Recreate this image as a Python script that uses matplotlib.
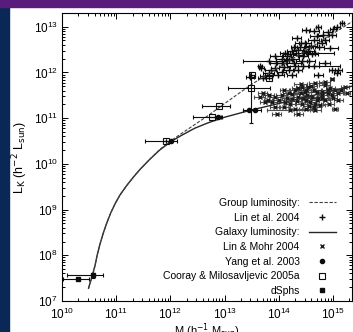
import numpy as np
import matplotlib
matplotlib.use('Agg')
import matplotlib.pyplot as plt
from matplotlib.lines import Line2D
from matplotlib.patches import Rectangle

plt.rcParams['font.family'] = ['Liberation Sans', 'DejaVu Sans']

# model curves (log10 M, log10 L)
gal_logm = [10.49, 10.53, 10.57, 10.61, 10.65, 10.70, 10.76, 10.83, 10.90, 10.98, 11.07, 11.19, 11.31,
            11.44, 11.62, 11.80, 12.00, 12.20, 12.45, 12.70, 13.00, 13.50, 14.00, 14.50, 15.00, 15.35]
gal_logl = [7.28, 7.44, 7.60, 7.78, 8.01, 8.24, 8.48, 8.72, 8.93, 9.13, 9.32, 9.52, 9.70,
            9.88, 10.10, 10.30, 10.48, 10.62, 10.78, 10.90, 11.02, 11.18, 11.32, 11.46, 11.60, 11.70]
grp_logm = [10.49, 10.53, 10.57, 10.61, 10.65, 10.70, 10.76, 10.83, 10.90, 10.98, 11.07, 11.19, 11.31,
            11.44, 11.62, 11.80, 12.00, 12.20, 12.45, 12.70, 13.00, 13.50, 14.00, 14.50, 15.00, 15.35]
grp_logl = [7.28, 7.44, 7.60, 7.78, 8.01, 8.24, 8.48, 8.72, 8.93, 9.13, 9.32, 9.52, 9.70,
            9.88, 10.10, 10.31, 10.50, 10.66, 10.86, 11.06, 11.32, 11.74, 12.11, 12.48, 12.85, 13.11]

# Lin et al. 2004 : log M, log L, x error low / high (dex)
lin04_logm = [14.73, 15.07, 15.17, 14.82, 14.98, 14.33, 14.64, 14.48, 14.79, 14.39,
              14.94, 14.24, 14.54, 14.11, 14.36, 13.93, 14.67, 14.18, 14.42, 14.05,
              14.30, 13.93, 13.65, 14.18, 13.81, 13.99, 14.24, 14.64, 14.98, 15.07,
              14.73, 13.71, 13.68, 13.47, 13.75, 13.81, 14.55, 14.45, 14.85, 14.28,
              14.05, 14.15, 14.25, 14.35, 14.50, 14.60, 14.70, 14.90, 15.00, 14.45,
              14.55, 14.35, 14.10, 13.95, 14.62, 14.75, 14.40, 14.20, 14.05, 13.85,
              14.85, 15.10, 14.50, 14.65, 14.28]
lin04_logl = [12.99, 12.99, 13.08, 12.82, 12.82, 12.75, 12.71, 12.64, 12.64, 12.56,
              12.53, 12.46, 12.46, 12.42, 12.38, 12.35, 12.43, 12.27, 12.24, 12.20,
              12.14, 12.09, 12.13, 12.05, 11.98, 11.95, 11.95, 12.13, 12.05, 11.98,
              11.95, 11.87, 12.09, 11.91, 11.93, 12.25, 12.55, 12.35, 12.72, 12.55,
              12.30, 12.35, 12.30, 12.50, 12.45, 12.58, 12.80, 12.88, 12.95, 12.15,
              12.25, 12.05, 12.12, 12.20, 12.40, 12.55, 12.65, 12.40, 12.02, 12.05,
              12.20, 12.05, 12.92, 12.90, 12.20]
lin04_xlo = [0.05, 0.05, 0.04, 0.10, 0.08, 0.08, 0.10, 0.10, 0.08, 0.10,
             0.10, 0.08, 0.08, 0.08, 0.10, 0.10, 0.40, 0.08, 0.10, 0.08,
             0.15, 0.08, 0.04, 0.10, 0.10, 0.10, 0.08, 0.10, 0.05, 0.05,
             0.08, 0.10, 0.05, 0.08, 0.10, 0.47, 0.08, 0.08, 0.08, 0.06,
             0.10, 0.08, 0.12, 0.10, 0.08, 0.10, 0.12, 0.08, 0.06, 0.10,
             0.12, 0.08, 0.10, 0.12, 0.10, 0.08, 0.10, 0.12, 0.08, 0.10,
             0.10, 0.06, 0.08, 0.10, 0.12]
lin04_xhi = [0.05, 0.05, 0.04, 0.10, 0.08, 0.08, 0.10, 0.12, 0.08, 0.10,
             0.15, 0.08, 0.10, 0.06, 0.10, 0.12, 0.35, 0.08, 0.10, 0.08,
             0.83, 0.08, 0.04, 0.10, 0.10, 0.10, 0.08, 0.10, 0.05, 0.05,
             0.08, 0.10, 0.05, 0.08, 0.12, 0.34, 0.08, 0.08, 0.08, 0.06,
             0.10, 0.08, 0.12, 0.10, 0.08, 0.10, 0.12, 0.08, 0.06, 0.10,
             0.12, 0.08, 0.10, 0.12, 0.10, 0.08, 0.10, 0.12, 0.08, 0.10,
             0.10, 0.06, 0.08, 0.10, 0.12]

# Lin & Mohr 2004
lm04_logm = [15.22, 15.04, 14.85, 14.67, 14.54, 14.79, 14.98, 14.48, 14.30, 14.18,
             14.36, 14.61, 14.85, 15.10, 14.05, 13.93, 13.81, 13.65, 13.87, 14.11,
             14.42, 14.67, 14.30, 13.93, 14.67, 15.04, 13.96, 14.36, 14.98, 14.70,
             14.42, 14.24, 14.55, 14.76, 13.75, 14.20, 15.10, 14.90, 14.50, 14.10,
             14.25, 14.40, 14.52, 14.65, 14.72, 14.80, 14.90, 14.45, 14.33, 14.58,
             14.70, 14.95, 15.15, 14.15, 14.00, 13.80, 14.60, 14.85, 14.40, 14.50,
             14.20, 14.50, 14.80, 15.00, 15.25, 14.10, 13.70, 14.65, 14.92, 14.35]
lm04_logl = [11.68, 11.61, 11.72, 11.76, 11.68, 11.57, 11.50, 11.57, 11.61, 11.54,
             11.46, 11.46, 11.39, 11.39, 11.50, 11.46, 11.50, 11.46, 11.35, 11.35,
             11.32, 11.32, 11.21, 11.25, 11.17, 11.21, 11.10, 11.10, 11.86, 11.57,
             11.68, 11.42, 11.26, 11.28, 11.35, 11.18, 11.55, 11.62, 11.40, 11.62,
             11.52, 11.55, 11.50, 11.62, 11.45, 11.50, 11.55, 11.44, 11.38, 11.36,
             11.40, 11.65, 11.62, 11.45, 11.40, 11.40, 11.70, 11.80, 11.75, 11.62,
             11.30, 11.20, 11.45, 11.45, 11.55, 11.25, 11.55, 11.25, 11.32, 11.65]
lm04_xlo = [0.08, 0.10, 0.10, 0.12, 0.10, 0.10, 0.10, 0.12, 0.10, 0.10,
            0.10, 0.12, 0.10, 0.08, 0.10, 0.12, 0.10, 0.10, 0.10, 0.10,
            0.10, 0.10, 0.12, 0.10, 0.10, 0.06, 0.08, 0.08, 0.04, 0.10,
            0.10, 0.10, 0.10, 0.10, 0.10, 0.42, 0.10, 0.10, 0.10, 0.08,
            0.12, 0.10, 0.08, 0.12, 0.10, 0.10, 0.08, 0.12, 0.10, 0.10,
            0.12, 0.08, 0.06, 0.10, 0.10, 0.08, 0.10, 0.10, 0.12, 0.10,
            0.10, 0.12, 0.10, 0.08, 0.06, 0.10, 0.08, 0.12, 0.10, 0.10]
lm04_xhi = [0.08, 0.10, 0.10, 0.12, 0.10, 0.10, 0.10, 0.12, 0.10, 0.10,
            0.10, 0.12, 0.10, 0.08, 0.10, 0.12, 0.10, 0.10, 0.10, 0.10,
            0.10, 0.10, 0.12, 0.10, 0.10, 0.06, 0.08, 0.08, 0.04, 0.10,
            0.10, 0.10, 0.10, 0.10, 0.10, 0.43, 0.10, 0.10, 0.10, 0.08,
            0.12, 0.10, 0.08, 0.12, 0.10, 0.10, 0.08, 0.12, 0.10, 0.10,
            0.12, 0.08, 0.06, 0.10, 0.10, 0.08, 0.10, 0.10, 0.12, 0.10,
            0.10, 0.12, 0.10, 0.08, 0.06, 0.10, 0.08, 0.12, 0.10, 0.10]

# Yang et al. 2003
yang_logm = [12.02, 12.88, 13.45, 13.56]
yang_logl = [10.49, 11.02, 11.18, 11.18]
yang_xlo = [0.49, 0.05, 0.12, 0.10]
yang_xhi = [0.10, 0.05, 0.10, 0.12]

# Cooray & Milosavljevic 2005a
coo_logm = [11.91, 12.76, 12.90, 13.48, 13.51, 13.82]
coo_logl = [10.49, 11.02, 11.27, 11.66, 11.95, 11.87]
coo_xlo = [0.0, 0.34, 0.32, 0.42, 0.05, 0.05]
coo_xhi = [0.0, 0.19, 0.20, 0.36, 0.05, 0.05]
coo_ylo = [0.0, 0.0, 0.0, 0.77, 0.0, 0.0]
coo_yhi = [0.0, 0.0, 0.0, 0.36, 0.0, 0.0]

# dSphs
dsph_logm = [10.30, 10.57]
dsph_logl = [7.49, 7.56]
dsph_xlo = [0.28, 0.48]
dsph_xhi = [0.19, 0.19]
dsph_yerr = [0.0, 0.05]


def errs(logm, logl, xlo, xhi, ylo=None, yhi=None):
    # convert dex errors to linear errorbar arrays
    m = 10 ** np.array(logm)
    l = 10 ** np.array(logl)
    xe = [m - 10 ** (np.array(logm) - np.array(xlo)), 10 ** (np.array(logm) + np.array(xhi)) - m]
    ye = None
    if ylo is not None:
        ye = [l - 10 ** (np.array(logl) - np.array(ylo)), 10 ** (np.array(logl) + np.array(yhi)) - l]
    return m, l, xe, ye


fig = plt.figure(figsize=(3.53, 3.32), dpi=100)
fig.patches.append(Rectangle((0, 0), 9 / 353, 1, transform=fig.transFigure, color='#0a2856', zorder=0))
fig.patches.append(Rectangle((0, 1 - 7 / 332), 1, 7 / 332, transform=fig.transFigure, color='#5a1c7c', zorder=0))
ax = fig.add_axes([62 / 353, 31 / 332, 290 / 353, 288 / 332])

eb = dict(fmt='none', elinewidth=0.8, capsize=1.6, capthick=0.8)

m, l, xe, ye = errs(lm04_logm, lm04_logl, lm04_xlo, lm04_xhi)
ax.errorbar(m, l, xerr=xe, ecolor='0.3', **eb)
ax.plot(m, l, 'x', color='0.1', ms=3.5, mew=1.0)

m, l, xe, ye = errs(lin04_logm, lin04_logl, lin04_xlo, lin04_xhi)
ax.errorbar(m, l, xerr=xe, ecolor='0.05', **eb)
ax.plot(m, l, '+', color='0.05', ms=4.5, mew=1.0)

ax.plot(10 ** np.array(gal_logm), 10 ** np.array(gal_logl), '-', color='0.15', lw=1.0)
ax.plot(10 ** np.array(grp_logm), 10 ** np.array(grp_logl), '--', color='0.25', lw=0.8, dashes=(3, 1.5))

m, l, xe, ye = errs(yang_logm, yang_logl, yang_xlo, yang_xhi)
ax.errorbar(m, l, xerr=xe, ecolor='0.05', **eb)
ax.plot(m, l, 'o', color='0.05', ms=3)

m, l, xe, ye = errs(coo_logm, coo_logl, coo_xlo, coo_xhi, coo_ylo, coo_yhi)
ax.errorbar(m, l, xerr=xe, yerr=ye, ecolor='0.05', **eb)
ax.plot(m, l, 's', mfc='none', mec='0.05', ms=3.8, mew=0.8)

m, l, xe, ye = errs(dsph_logm, dsph_logl, dsph_xlo, dsph_xhi, dsph_yerr, dsph_yerr)
ax.errorbar(m, l, xerr=xe, yerr=ye, ecolor='0.05', **eb)
ax.plot(m, l, 's', color='0.05', ms=3)

ax.set_xscale('log')
ax.set_yscale('log')
ax.set_xlim(1e10, 10 ** 15.35)
ax.set_ylim(1e7, 10 ** 13.3)
ax.tick_params(which='both', direction='in', top=True, right=True, labelsize=8.5, width=0.7)
ax.tick_params(which='major', length=4.5, pad=3)
ax.tick_params(axis='x', which='major', pad=4)
ax.tick_params(which='minor', length=2.2)
ax.xaxis.set_major_locator(matplotlib.ticker.LogLocator(base=10, numticks=10))
ax.yaxis.set_major_locator(matplotlib.ticker.LogLocator(base=10, numticks=10))
ax.xaxis.set_minor_locator(matplotlib.ticker.LogLocator(base=10, subs=np.arange(2, 10), numticks=20))
ax.yaxis.set_minor_locator(matplotlib.ticker.LogLocator(base=10, subs=np.arange(2, 10), numticks=20))
ax.xaxis.set_minor_formatter(matplotlib.ticker.NullFormatter())
ax.yaxis.set_minor_formatter(matplotlib.ticker.NullFormatter())
for s in ax.spines.values():
    s.set_linewidth(0.8)

ax.set_xlabel(r'M (h$^{-1}$ M$_{\rm sun}$)', fontsize=8, labelpad=0)
ax.set_ylabel(r'L$_{\rm K}$ (h$^{-2}$ L$_{\rm sun}$)', fontsize=9, labelpad=3)

handles = [Line2D([], [], ls='--', color='0.25', lw=0.8, dashes=(3, 1.5)),
           Line2D([], [], ls='none', marker='+', color='0.05', ms=4.5, mew=1.0),
           Line2D([], [], ls='-', color='0.15', lw=1.0),
           Line2D([], [], ls='none', marker='x', color='0.1', ms=3.5, mew=1.0),
           Line2D([], [], ls='none', marker='o', color='0.05', ms=3),
           Line2D([], [], ls='none', marker='s', mfc='none', mec='0.05', ms=3.8, mew=0.8),
           Line2D([], [], ls='none', marker='s', color='0.05', ms=3)]
labels = ['Group luminosity:', 'Lin et al. 2004', 'Galaxy luminosity:', 'Lin & Mohr 2004',
          'Yang et al. 2003', 'Cooray & Milosavljevic 2005a', 'dSphs']
ax.legend(handles, labels, loc='lower right', bbox_to_anchor=(0.97, -0.008), frameon=False,
          markerfirst=False, fontsize=7.5, handlelength=2.6, handletextpad=0.9,
          labelspacing=0.45, borderpad=0.2)

fig.savefig('out.png', dpi=100)
